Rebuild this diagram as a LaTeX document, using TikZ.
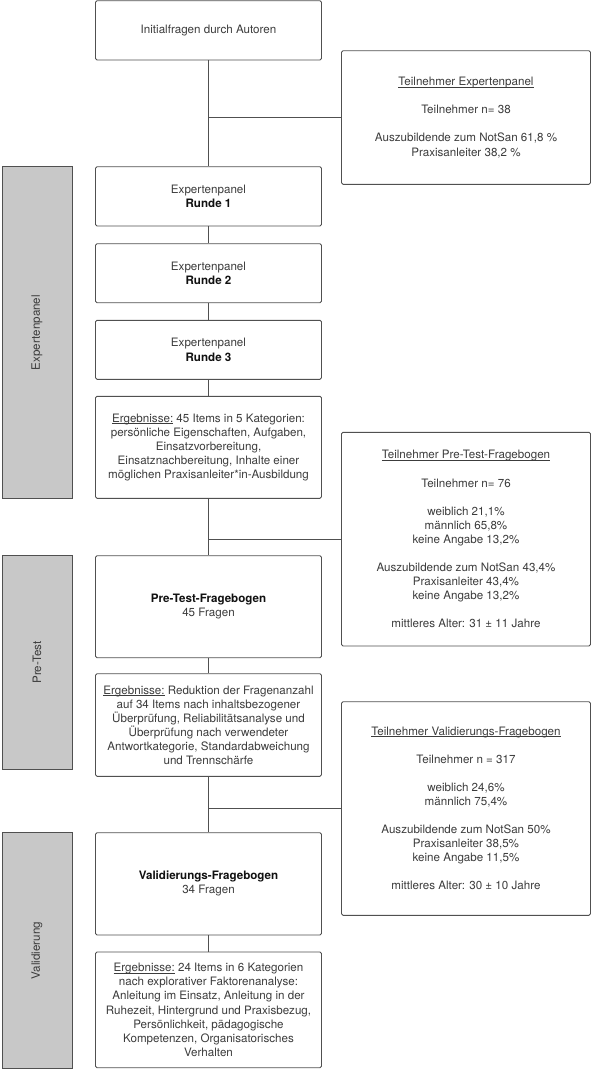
\documentclass[tikz,border=0pt]{standalone}
\usepackage{fontspec}
\setmainfont{TeX Gyre Heros}
\definecolor{txt}{HTML}{3C3C3C}
\definecolor{bold}{HTML}{111111}
\definecolor{edge}{HTML}{505050}
\definecolor{barfill}{HTML}{C8C8C8}
\newcommand\myul[1]{\leavevmode\setbox0\hbox{#1}\rlap{\rule[-1.6pt]{\wd0}{0.6pt}}\box0\relax}
\newcommand\bt[1]{{\bfseries\color{bold}#1}}
\begin{document}
\begin{tikzpicture}[x=1pt,y=-1pt,
  every node/.style={font=\fontsize{11.6}{14.05}\selectfont, text=txt},
  box/.style={draw=edge, line width=0.9pt, rounded corners=1.5pt, fill=white,
    align=center, inner sep=0pt},
  mainbox/.style={box, minimum width=226pt},
  sidebox/.style={box, minimum width=249pt},
  bar/.style={draw=edge, line width=0.9pt, fill=barfill, minimum width=70pt, inner sep=0pt},
  barlabel/.style={rotate=90, text=txt},
  link/.style={draw=edge, line width=0.9pt}]
\useasboundingbox (0,0) rectangle (592,1069);
% gray phase bars
\node[bar, minimum height=331.6pt] (g1) at (37,332.5) {};
\node[barlabel] (g1t) at (g1.center) {Expertenpanel};
\node[bar, minimum height=213.6pt] (g2) at (37,662.5) {};
\node[barlabel] (g2t) at (g2.center) {Pre-Test};
\node[bar, minimum height=235.6pt] (g3) at (37,950.5) {};
\node[barlabel] (g3t) at (g3.center) {Validierung};
% main column
\node[mainbox, minimum height=59.3pt] (init) at (208.5,30.35) {Initialfragen durch Autoren};
\node[mainbox, minimum height=59.3pt] (r1) at (208.5,196.35) {Expertenpanel\\\bt{Runde 1}};
\node[mainbox, minimum height=59pt] (r2) at (208.5,273.2) {Expertenpanel\\\bt{Runde 2}};
\node[mainbox, minimum height=59pt] (r3) at (208.5,349.8) {Expertenpanel\\\bt{Runde 3}};
\node[mainbox, minimum height=102pt] (erg1) at (208.5,447.3) {\myul{Ergebnisse:} 45 Items in 5 Kategorien:\\persönliche Eigenschaften, Aufgaben,\\Einsatzvorbereitung,\\Einsatznachbereitung, Inhalte einer\\möglichen Praxisanleiter*in-Ausbildung};
\node[mainbox, minimum height=102pt] (pre) at (208.5,606.7) {\bt{Pre-Test-Fragebogen}\\45 Fragen};
\node[mainbox, minimum height=102.6pt] (erg2) at (208.5,725) {\myul{Ergebnisse:} Reduktion der Fragenanzahl\\auf 34 Items nach inhaltsbezogener\\Überprüfung, Reliabilitätsanalyse und\\Überprüfung nach verwendeter\\Antwortkategorie, Standardabweichung\\und Trennschärfe};
\node[mainbox, minimum height=102.3pt] (val) at (208.5,883.85) {\bt{Validierungs-Fragebogen}\\34 Fragen};
\node[mainbox, minimum height=115.7pt] (erg3) at (208.5,1009.85) {\myul{Ergebnisse:} 24 Items in 6 Kategorien\\nach explorativer Faktorenanalyse:\\Anleitung im Einsatz, Anleitung in der\\Ruhezeit, Hintergrund und Praxisbezug,\\Persönlichkeit, pädagogische\\Kompetenzen, Organisatorisches\\Verhalten};
% side boxes
\node[sidebox, minimum height=133.6pt] (t1) at (466,117.5) {\myul{Teilnehmer Expertenpanel}\\[14.05pt]Teilnehmer n= 38\\[14.05pt]Auszubildende zum NotSan 61,8 \%\\Praxisanleiter 38,2 \%};
\node[sidebox, minimum height=213.7pt] (t2) at (466,539.15) {\myul{Teilnehmer Pre-Test-Fragebogen}\\[14.05pt]Teilnehmer n= 76\\[14.05pt]weiblich 21,1\%\\männlich 65,8\%\\keine Angabe 13,2\%\\[14.05pt]Auszubildende zum NotSan 43,4\%\\Praxisanleiter 43,4\%\\keine Angabe 13,2\%\\[14.05pt]mittleres Alter: 31 ± 11 Jahre};
\node[sidebox, minimum height=213.6pt] (t3) at (466,808.5) {\myul{Teilnehmer Validierungs-Fragebogen}\\[14.05pt]Teilnehmer n = 317\\[14.05pt]weiblich 24,6\%\\männlich 75,4\%\\[14.05pt]Auszubildende zum NotSan 50\%\\Praxisanleiter 38,5\%\\keine Angabe 11,5\%\\[14.05pt]mittleres Alter: 30 ± 10 Jahre};
% junctions
\coordinate (j1) at (init.south |- t1.west);
\coordinate (j2) at (erg1.south |- t2.west);
\coordinate (j3) at (erg2.south |- t3.west);
% connectors
\path[link] (init) -- (r1);
\path[link] (j1) -- (t1.west);
\path[link] (r1) -- (r2);
\path[link] (r2) -- (r3);
\path[link] (r3) -- (erg1);
\path[link] (erg1) -- (pre);
\path[link] (j2) -- (t2.west);
\path[link] (pre) -- (erg2);
\path[link] (erg2) -- (val);
\path[link] (j3) -- (t3.west);
\path[link] (val) -- (erg3);
\end{tikzpicture}
\end{document}
